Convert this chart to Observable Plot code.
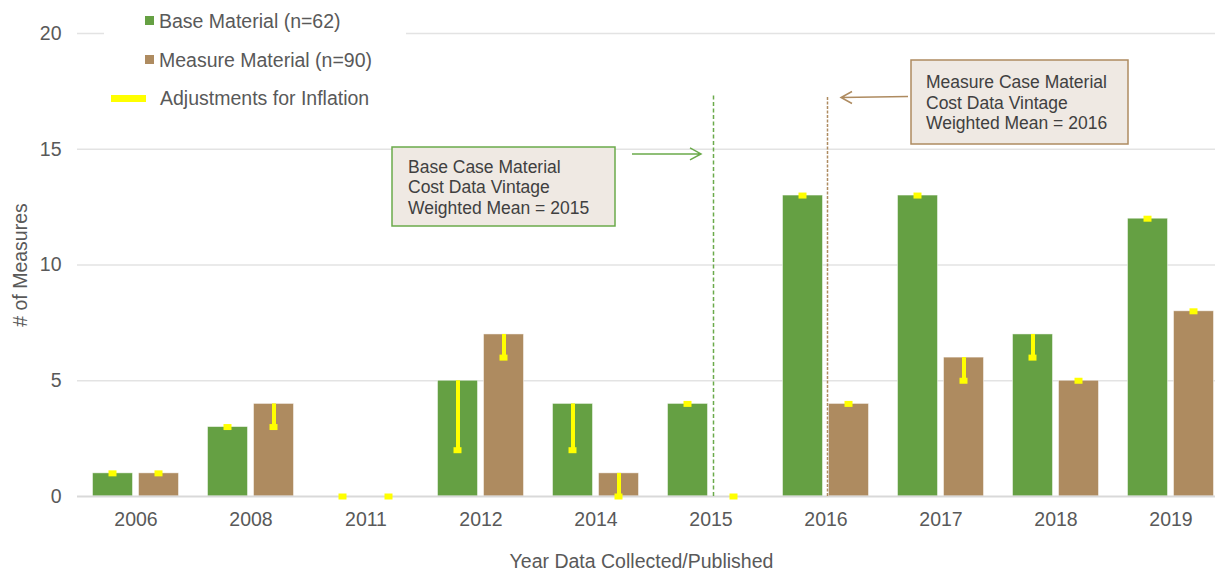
<!DOCTYPE html>
<html>
<head>
<meta charset="utf-8">
<script src="https://cdn.jsdelivr.net/npm/d3@7"></script>
<script src="https://cdn.jsdelivr.net/npm/@observablehq/plot@0.6"></script>
<style>
  html, body { margin: 0; padding: 0; background: white; }
</style>
</head>
<body>
<div id="chart"></div>
<script>
const years = ["2006","2008","2011","2012","2014","2015","2016","2017","2018","2019"];
const baseCounts      = [1, 3, 0, 5, 4, 4, 13, 13, 7, 12];
const baseAdjusted    = [1, 3, 0, 2, 2, 4, 13, 13, 6, 12];
const measureCounts   = [1, 4, 0, 7, 1, 0, 4, 6, 5, 8];
const measureAdjusted = [1, 3, 0, 6, 0, 0, 4, 5, 5, 8];
const yTicks = [0, 5, 10, 15, 20];
const legendLabels = ["Base Material (n=62)", "Measure Material (n=90)", "Adjustments for Inflation"];
const baseNote = ["Base Case Material", "Cost Data Vintage", "Weighted Mean = 2015"];
const measureNote = ["Measure Case Material", "Cost Data Vintage", "Weighted Mean = 2016"];
const vintage = [{year: "2015", series: "base"}, {year: "2016", series: "measure"}];

const GREEN = "#65A043";
const BROWN = "#AE8B60";
const YELLOW = "#FFFF00";
const TEXT = "#595959";
const FONT = "Liberation Sans, Arial, sans-serif";
const FS = 19.5;

const rows = years.map((year, i) => ({
  year,
  base: baseCounts[i], baseAdj: baseAdjusted[i],
  measure: measureCounts[i], measureAdj: measureAdjusted[i]
}));

function annotations(index, scales, values, dims) {
  const x = scales.x, y = scales.y;
  const bw = x.bandwidth();
  const g = d3.create("svg:g").attr("font-family", FONT).attr("text-anchor", "start");

  // legend background & items
  g.append("rect").attr("x", 104).attr("y", 2).attr("width", 302).attr("height", 110).attr("fill", "white");
  g.append("rect").attr("x", 145).attr("y", 16).attr("width", 9).attr("height", 9).attr("fill", GREEN);
  g.append("rect").attr("x", 145).attr("y", 55).attr("width", 9).attr("height", 9).attr("fill", BROWN);
  g.append("rect").attr("x", 111).attr("y", 95).attr("width", 35).attr("height", 7).attr("fill", YELLOW);
  const lt = [[159, 21], [159, 60], [160, 98]];
  legendLabels.forEach((t, i) => {
    g.append("text").attr("x", lt[i][0]).attr("y", lt[i][1]).attr("dy", "0.35em")
      .attr("font-size", FS).attr("text-anchor", "start").attr("fill", TEXT).text(t);
  });

  // vertical guide positions
  const gx = x("2015") + bw / 2 + 2.5;
  const bx = x("2016") + bw / 2 + 1.5;

  // green box
  g.append("rect").attr("x", 392).attr("y", 147).attr("width", 223).attr("height", 79)
    .attr("fill", "#EFE9E3").attr("stroke", "#6BAA4B").attr("stroke-width", 1.5);
  baseNote.forEach((t, i) => {
    g.append("text").attr("x", 408).attr("y", 167 + i * 20.3).attr("dy", "0.35em")
      .attr("font-size", 17.5).attr("text-anchor", "start").attr("fill", "#404040").text(t);
  });
  const ga = y(14.8) + 0.5;
  g.append("path").attr("d", `M632,${ga}L${gx - 12},${ga}M${gx - 23},${ga - 6}L${gx - 12},${ga}L${gx - 23},${ga + 6}`)
    .attr("fill", "none").attr("stroke", "#6BAA4B").attr("stroke-width", 1.5);

  // brown box
  g.append("rect").attr("x", 911).attr("y", 60).attr("width", 217).attr("height", 84)
    .attr("fill", "#EFE9E3").attr("stroke", BROWN).attr("stroke-width", 1.5);
  measureNote.forEach((t, i) => {
    g.append("text").attr("x", 926).attr("y", 82 + i * 20.5).attr("dy", "0.35em")
      .attr("font-size", 17.5).attr("text-anchor", "start").attr("fill", "#404040").text(t);
  });
  const ba = 97;
  g.append("path").attr("d", `M908,${ba - 0.5}L${bx + 14},${ba + 0.5}M${bx + 25},${ba - 5.5}L${bx + 14},${ba + 0.5}L${bx + 25},${ba + 6.5}`)
    .attr("fill", "none").attr("stroke", BROWN).attr("stroke-width", 1.5);

  return g.node();
}

const plot = Plot.plot({
  width: 1219,
  height: 571,
  marginTop: 33,
  marginBottom: 75,
  marginLeft: 77,
  marginRight: 4,
  style: { fontFamily: FONT, fontSize: FS + "px", color: TEXT, background: "white" },
  x: { domain: years, range: [77.5, 1228.5], padding: 0, label: null },
  y: { domain: [0, 20], ticks: yTicks },
  marks: [
    Plot.ruleY(yTicks.filter(d => d > 0), { stroke: "#E3E3E3", strokeWidth: 1.5 }),
    Plot.barY(rows, { x: "year", y: "base", fill: GREEN, insetLeft: 14.5, insetRight: 60.5, stroke: "#ffffff", strokeOpacity: 0.6, strokeWidth: 0.8 }),
    Plot.barY(rows, { x: "year", y: "measure", fill: BROWN, insetLeft: 60.5, insetRight: 14.5, stroke: "#ffffff", strokeOpacity: 0.6, strokeWidth: 0.8 }),
    Plot.ruleY([0], { stroke: "#D9D9D9", strokeWidth: 2 }),
    Plot.ruleX(vintage.filter(d => d.series === "base"), { x: "year", y1: 0, y2: 17.4, dx: 2.5, stroke: "#6BAA4B", strokeWidth: 1.5, strokeDasharray: "4,2.5" }),
    Plot.ruleX(vintage.filter(d => d.series === "measure"), { x: "year", y1: 0, y2: 17.3, dx: 1.5, stroke: BROWN, strokeWidth: 1.5, strokeDasharray: "3,1.5" }),
    Plot.ruleX(rows, { x: "year", y1: "base", y2: "baseAdj", dx: -23, stroke: YELLOW, strokeWidth: 4 }),
    Plot.ruleX(rows, { x: "year", y1: "measure", y2: "measureAdj", dx: 23, stroke: YELLOW, strokeWidth: 4 }),
    Plot.tickY(rows, { x: "year", y: "baseAdj", insetLeft: 30.5, insetRight: 76.5, stroke: YELLOW, strokeWidth: 6 }),
    Plot.tickY(rows, { x: "year", y: "measureAdj", insetLeft: 76.5, insetRight: 30.5, stroke: YELLOW, strokeWidth: 6 }),
    Plot.axisX({ tickSize: 0, tickPadding: 16, fontSize: FS, label: null }),
    Plot.axisY({ ticks: yTicks, tickSize: 0, tickPadding: 16, fontSize: FS, label: "# of Measures", labelAnchor: "center", labelArrow: "none", labelOffset: 64 }),
    Plot.text(["Year Data Collected/Published"], { frameAnchor: "bottom", dy: 71, dx: -5, fill: TEXT, fontSize: FS }),
    annotations
  ]
});

document.getElementById("chart").appendChild(plot);
</script>
</body>
</html>
